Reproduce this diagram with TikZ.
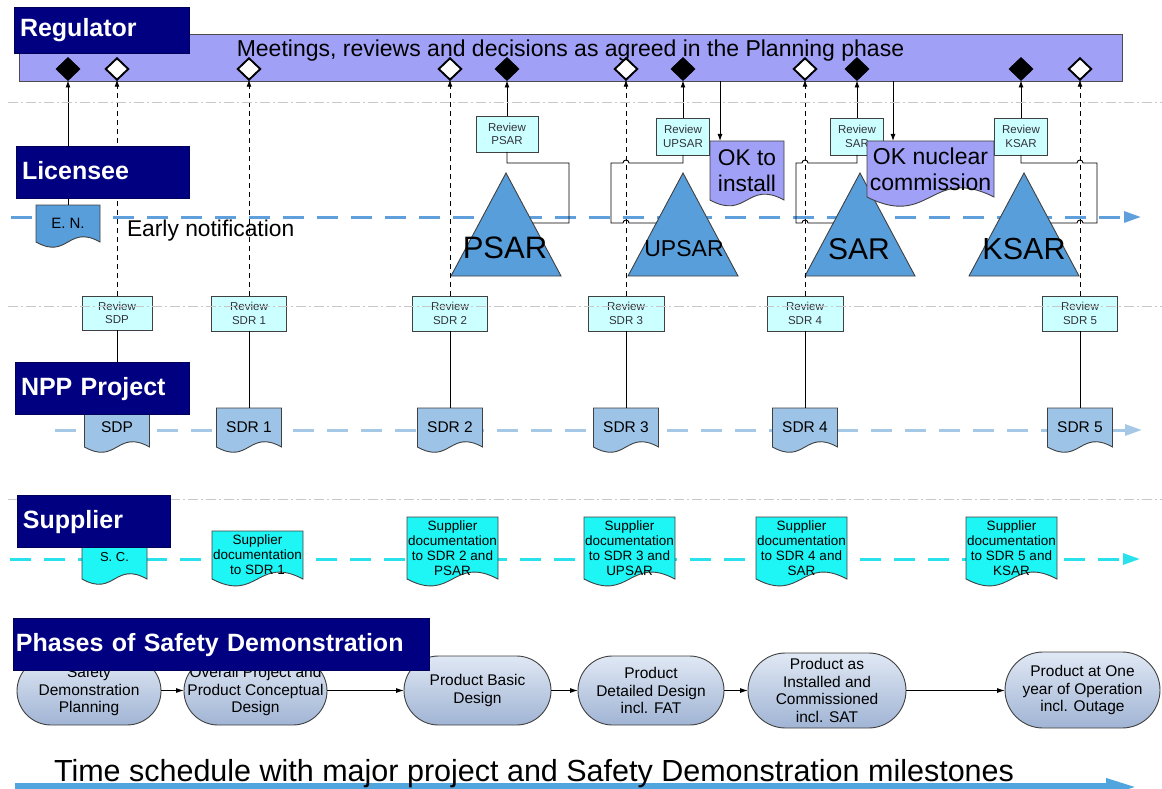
\documentclass[tikz,border=0pt]{standalone}
\usepackage{fontspec}
\setmainfont{Liberation Sans}
\usetikzlibrary{arrows.meta,calc,shapes.geometric}

\definecolor{navy}{RGB}{0,0,128}
\definecolor{lav}{RGB}{160,160,246}
\definecolor{steel}{RGB}{88,158,218}
\definecolor{paleblue}{RGB}{157,196,231}
\definecolor{revfill}{RGB}{204,255,255}
\definecolor{cyandoc}{RGB}{30,245,245}
\definecolor{edge}{RGB}{64,64,64}
\definecolor{revtext}{RGB}{50,50,60}
\definecolor{sepgray}{RGB}{200,200,200}
\definecolor{licline}{RGB}{95,160,220}
\definecolor{nppline}{RGB}{165,200,230}
\definecolor{supline}{RGB}{40,225,235}
\definecolor{timeline}{RGB}{80,165,222}
\definecolor{phasetop}{RGB}{224,232,244}
\definecolor{phasebot}{RGB}{160,180,212}

% document symbol: rectangle with a wavy lower edge
\newdimen\dpxl \newdimen\dpxr \newdimen\dpxm
\newdimen\dpyt \newdimen\dpyb \newdimen\dpyu \newdimen\dpyd
\makeatletter
\pgfdeclareshape{docpage}{
  \inheritsavedanchors[from=rectangle]
  \inheritanchorborder[from=rectangle]
  \inheritanchor[from=rectangle]{center}
  \inheritanchor[from=rectangle]{text}
  \inheritanchor[from=rectangle]{north}
  \inheritanchor[from=rectangle]{south}
  \inheritanchor[from=rectangle]{east}
  \inheritanchor[from=rectangle]{west}
  \inheritanchor[from=rectangle]{north east}
  \inheritanchor[from=rectangle]{north west}
  \inheritanchor[from=rectangle]{south east}
  \inheritanchor[from=rectangle]{south west}
  \backgroundpath{
    \southwest \global\dpxl=\pgf@x \global\dpyb=\pgf@y
    \northeast \global\dpxr=\pgf@x \global\dpyt=\pgf@y
    \dpxm=.5\dpxl \advance\dpxm by .5\dpxr
    \dpyd=\dpxr \advance\dpyd by -\dpxl \dpyd=0.22\dpyd \advance\dpyd by 4pt
    \dpyu=\dpyb \advance\dpyu by \dpyd
    \dpyd=-\dpyd \advance\dpyd by \dpyb
    \pgfpathmoveto{\pgfqpoint{\dpxl}{\dpyt}}
    \pgfpathlineto{\pgfqpoint{\dpxr}{\dpyt}}
    \pgfpathlineto{\pgfqpoint{\dpxr}{\dpyb}}
    \pgfpathcurveto{\pgfqpoint{\dpxm}{\dpyu}}{\pgfqpoint{\dpxm}{\dpyd}}{\pgfqpoint{\dpxl}{\dpyb}}
    \pgfpathclose
  }
}
\makeatother

\newcommand\setfs[2]{\fontsize{#1pt}{#2pt}\selectfont}

\tikzset{
  every node/.style={inner sep=0pt, outer sep=0pt},
  header/.style={fill=navy, draw=navy!70!black, text=white,
    font=\setfs{25}{28}\bfseries, align=left, inner xsep=6pt,
    text height=18pt, text depth=4pt, anchor=north west},
  diab/.style={diamond, draw=black, fill=black, line width=0.6pt,
    minimum width=24pt, minimum height=23pt},
  diaw/.style={diamond, draw=black, fill=white, line width=1.9pt,
    minimum width=22.5pt, minimum height=21.5pt},
  rev/.style={rectangle, draw=edge, fill=revfill, line width=0.9pt,
    text=revtext, font=\setfs{11.5}{13.3}, align=center},
  doc/.style={shape=docpage, draw=edge, line width=0.9pt, anchor=north,
    align=center},
  tri/.style={fill=steel, draw=edge, line width=0.9pt},
  conn/.style={draw=black, line width=0.9pt},
  dashv/.style={dash pattern=on 5pt off 4pt},
  tip/.style={-{Latex[length=7pt,width=5pt]}},
  lane/.style={line width=3pt, dash pattern=on 21pt off 13pt},
  sep/.style={draw=sepgray, line width=1pt,
    dash pattern=on 10pt off 3pt on 2pt off 3pt},
  phase/.style 2 args={rectangle, rounded corners=#2/2,
    minimum width=#1, minimum height=#2,
    draw=edge, line width=0.9pt,
    top color=phasetop, bottom color=phasebot,
    font=\setfs{15.5}{17.5}, align=center},
}

\begin{document}
\begin{tikzpicture}[x=1pt,y=-1pt]
\useasboundingbox (0,0) rectangle (1162,789);
\clip (0,0) rectangle (1162,789);

% ---------- lane time lines ----------
\coordinate (licA) at (11,217);  \coordinate (licB) at (1141,217);
\coordinate (nppA) at (55,430);  \coordinate (nppB) at (1142,430);
\coordinate (supA) at (10,559);  \coordinate (supB) at (1140,559);
\draw[lane, draw=licline, -{Triangle[length=17pt,width=11pt]}] (licA) -- (licB);
\draw[lane, draw=nppline, -{Triangle[length=17pt,width=11pt]}] (nppA) -- (nppB);
\draw[lane, draw=supline, -{Triangle[length=17pt,width=11pt]}] (supA) -- (supB);

% ---------- regulator bar and milestones ----------
\node[draw=gray!60!black, fill=lav, line width=0.8pt, minimum width=1103pt,
      minimum height=47pt, anchor=north west] (bar) at (19,34) {};
\node[font=\setfs{23}{26}, anchor=base] (meet) at (570.5,57)
  {Meetings, reviews and decisions as agreed in the Planning phase};

\node[diab] (d1)  at (68,69) {};
\node[diaw] (d2)  at (117,69) {};
\node[diaw] (d3)  at (249,69) {};
\node[diaw] (d4)  at (450,69) {};
\node[diab] (d5)  at (507,69) {};
\node[diaw] (d6)  at (626,69) {};
\node[diab] (d7)  at (683,69) {};
\node[diaw] (d8)  at (805,69) {};
\node[diab] (d9)  at (857,69) {};
\node[diab] (d10) at (1021,69) {};
\node[diaw] (d11) at (1080,69) {};

% ---------- licensee lane ----------
\node[doc, fill=steel, minimum width=64pt, minimum height=37pt,
      font=\setfs{15}{17}] (en) at (68,205) {E. N.};
\node[font=\setfs{22.8}{26}, anchor=base west] (enote) at (127,236) {Early notification};

\path[tri] (506,173) coordinate (psarA) -- (561,276) coordinate (psarR)
  -- (451,276) coordinate (psarL) -- cycle;
\path[tri] (683,173) coordinate (upsarA) -- (738,276) coordinate (upsarR)
  -- (628,276) coordinate (upsarL) -- cycle;
\path[tri] (860,173) coordinate (sarA) -- (915,276) coordinate (sarR)
  -- (805,276) coordinate (sarL) -- cycle;
\path[tri] (1024,173) coordinate (ksarA) -- (1079,276) coordinate (ksarR)
  -- (969,276) coordinate (ksarL) -- cycle;
\coordinate (psarE)  at ($(psarA)!0.4854!(psarR)$);
\coordinate (upsarE) at ($(upsarA)!0.4854!(upsarL)$);
\coordinate (sarE)   at ($(sarA)!0.4854!(sarL)$);
\coordinate (ksarE)  at ($(ksarA)!0.4854!(ksarR)$);
\node[font=\setfs{31}{34}] (psar)  at (505,248) {PSAR};
\node[font=\setfs{23}{26}] (upsar) at (684,249) {UPSAR};
\node[font=\setfs{30}{34}] (sar)   at (859,249) {SAR};
\node[font=\setfs{30.5}{34}] (ksar) at (1024,249) {KSAR};

\node[rev, minimum width=62pt, minimum height=36pt] (rpsar)  at (507,134) {Review\\PSAR};
\node[rev, minimum width=53pt, minimum height=37pt] (rupsar) at (683,136.5) {Review\\UPSAR};
\node[rev, minimum width=53pt, minimum height=37pt] (rsar)   at (857,136.5) {Review\\SAR};
\node[rev, minimum width=53pt, minimum height=37pt] (rksar)  at (1021,136.5) {Review\\KSAR};

% review results back to the safety reports
\draw[conn] (rpsar.south) -- ++(0,11) -| (569,223) -- (psarE);
\draw[conn] (rupsar.south) -- ++(0,8) -- (629,163)
  arc[start angle=0,end angle=-180,radius=3] -- (611,163) -- (611,223) -- (623,223)
  arc[start angle=180,end angle=360,radius=3] -- (upsarE);
\draw[conn] (rsar.south) -- ++(0,8) -- (808,163)
  arc[start angle=0,end angle=-180,radius=3] -- (796,163) -- (796,223) -- (802,223)
  arc[start angle=180,end angle=360,radius=3] -- (sarE);
\draw[conn] (rksar.south) -- ++(0,8) -- (1077,163)
  arc[start angle=180,end angle=360,radius=3] -- (1097,163) -- (1097,223) -- (1083,223)
  arc[start angle=0,end angle=-180,radius=3] -- (ksarE);

% regulator decisions
\node[doc, fill=lav, minimum width=74pt, minimum height=59pt,
      font=\setfs{22.7}{26}] (okin) at (747,141) {OK to\\install};
\node[doc, fill=lav, minimum width=127pt, minimum height=56pt,
      font=\setfs{23}{26}] (oknc) at (930.5,141) {OK nuclear\\commission};
\draw[conn, tip] ([xshift=-27pt]okin.north |- bar.south) -- ([xshift=-27pt]okin.north);
\draw[conn, tip] ([xshift=-37.5pt]oknc.north |- bar.south) -- ([xshift=-37.5pt]oknc.north);

% ---------- NPP project lane ----------
\node[rev, minimum width=70pt, minimum height=34pt] (rsdp)  at (117,313) {Review\\SDP};
\node[rev, minimum width=75pt, minimum height=35pt] (rsdr1) at (249,313.5) {Review\\SDR 1};
\node[rev, minimum width=75pt, minimum height=35pt] (rsdr2) at (450,313.5) {Review\\SDR 2};
\node[rev, minimum width=76pt, minimum height=35pt] (rsdr3) at (626,313.5) {Review\\SDR 3};
\node[rev, minimum width=76pt, minimum height=35pt] (rsdr4) at (805,313.5) {Review\\SDR 4};
\node[rev, minimum width=75pt, minimum height=35pt] (rsdr5) at (1080,313.5) {Review\\SDR 5};

\foreach \n/\x/\t in {sdp/117/SDP, sdr1/249/SDR 1, sdr2/450/SDR 2,
                      sdr3/626/SDR 3, sdr4/805/SDR 4, sdr5/1080/SDR 5}
  \node[doc, fill=paleblue, minimum width=65pt, minimum height=39pt,
        font=\setfs{15.5}{18}] (\n) at (\x,408) {\t};

\foreach \a/\b in {sdp/rsdp, sdr1/rsdr1, sdr2/rsdr2, sdr3/rsdr3, sdr4/rsdr4, sdr5/rsdr5}
  \draw[conn] (\a.north) -- (\b.south);

% ---------- supplier lane ----------
\node[doc, fill=cyandoc, minimum width=65pt, minimum height=43pt,
      font=\setfs{13}{15}] (sc) at (114.5,536) {S. C.};
\node[doc, fill=cyandoc, minimum width=91pt, minimum height=48pt,
      font=\setfs{13.5}{15}] (sd1) at (257.5,531) {Supplier\\documentation\\to SDR 1};
\node[doc, fill=cyandoc, minimum width=91pt, minimum height=62pt,
      font=\setfs{13.5}{15}] (sd2) at (452.5,517) {Supplier\\documentation\\to SDR 2 and\\PSAR};
\node[doc, fill=cyandoc, minimum width=91pt, minimum height=62pt,
      font=\setfs{13.5}{15}] (sd3) at (629.5,517) {Supplier\\documentation\\to SDR 3 and\\UPSAR};
\node[doc, fill=cyandoc, minimum width=91pt, minimum height=62pt,
      font=\setfs{13.5}{15}] (sd4) at (801.5,517) {Supplier\\documentation\\to SDR 4 and\\SAR};
\node[doc, fill=cyandoc, minimum width=91pt, minimum height=62pt,
      font=\setfs{13.5}{15}] (sd5) at (1011.5,517) {Supplier\\documentation\\to SDR 5 and\\KSAR};

% ---------- links to the regulator milestones ----------
\draw[conn, tip] (en.north) -- (d1.south);
\draw[conn, dashv, tip] (rsdp.north) -- (d2.south);
\draw[conn, dashv, tip] (rsdr1.north) -- (d3.south);
\draw[conn, dashv, tip] (rsdr2.north) -- (d4.south);
\draw[conn, tip] (rpsar.north) -- (d5.south);
\draw[conn, dashv, tip] (rsdr3.north) -- (d6.south);
\draw[conn, tip] (rupsar.north) -- (d7.south);
\draw[conn, dashv, tip] (rsdr4.north) -- (d8.south);
\draw[conn, tip] (rsar.north) -- (d9.south);
\draw[conn, tip] (rksar.north) -- (d10.south);
\draw[conn, dashv, tip] (rsdr5.north) -- (d11.south);

% ---------- lane separators ----------
\draw[sep] (8,103) -- (1162,103);
\draw[sep] (8,306) -- (1162,306);
\draw[sep] (8,499) -- (1162,499);

% ---------- phases of safety demonstration ----------
\node[phase={144pt}{68pt}] (p1) at (89,691) {Safety\\Demonstration\\Planning};
\node[phase={143pt}{68pt}] (p2) at (255.5,691) {Overall Project and\\Product Conceptual\\Design};
\node[phase={147pt}{69pt}] (p3) at (477.5,690.5) {Product Basic\\Design};
\node[phase={146pt}{69pt}] (p4) at (651,690.5) {Product\\Detailed Design\\incl. FAT};
\node[phase={158pt}{75pt}] (p5) at (827,690.5) {Product as\\Installed and\\Commissioned\\incl. SAT};
\node[phase={155pt}{76pt}] (p6) at (1082.5,690) {Product at One\\year of Operation\\incl. Outage};
\foreach \a/\b in {p1/p2, p2/p3, p3/p4, p4/p5, p5/p6}
  \draw[conn, {-Latex[length=8pt,width=5pt]}] (\a.east |- 0,690.5) -- (\b.west |- 0,690.5);

% ---------- lane headers ----------
\node[header, minimum width=175pt, minimum height=46pt, text width=163pt] (hreg) at (14,7) {Regulator};
\node[header, minimum width=173pt, minimum height=52pt, text width=161pt] (hlic) at (16,146) {Licensee};
\node[header, minimum width=174pt, minimum height=52pt, text width=162pt] (hnpp) at (15,362) {NPP Project};
\node[header, minimum width=153pt, minimum height=52pt, text width=141pt] (hsup) at (17,495) {Supplier};
\node[header, inner xsep=3pt, minimum width=416pt, minimum height=52pt, text width=410pt] (hpha) at (13,618) {Phases of Safety Demonstration};

% ---------- time axis ----------
\coordinate (tA) at (15,787); \coordinate (tB) at (1140,787);
\draw[draw=timeline, line width=8pt, -{Triangle[length=34pt,width=15pt]}] (tA) -- (tB);
\node[font=\setfs{30.5}{34}, anchor=base west] (ttl) at (54,781)
  {Time schedule with major project and Safety Demonstration milestones};
\end{tikzpicture}
\end{document}
